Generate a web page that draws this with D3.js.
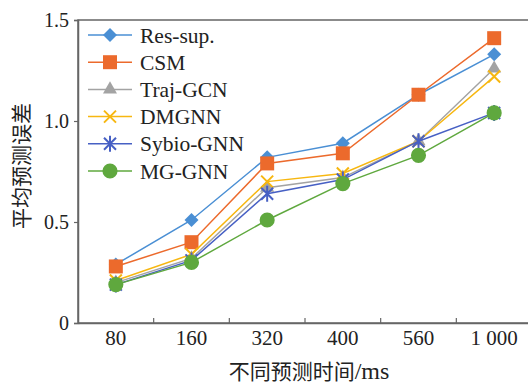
<!DOCTYPE html>
<html>
<head>
<meta charset="utf-8">
<script src="https://cdn.jsdelivr.net/npm/d3@7/dist/d3.min.js"></script>
<style>
  body { margin: 0; background: #fff; }
  svg { display: block; }
</style>
</head>
<body>
<div id="chart"></div>
<script>
// categories and series
const times = ["80", "160", "320", "400", "560", "1 000"];
const resSup  = [0.29, 0.51, 0.82, 0.89, 1.13, 1.33];
const csm     = [0.28, 0.40, 0.79, 0.84, 1.13, 1.41];
const trajGcn = [0.20, 0.32, 0.67, 0.72, 0.90, 1.26];
const dmgnn   = [0.21, 0.34, 0.70, 0.74, 0.90, 1.22];
const sybio   = [0.19, 0.31, 0.64, 0.71, 0.90, 1.04];
const mgGnn   = [0.19, 0.30, 0.51, 0.69, 0.83, 1.04];
const yTicks  = [0, 0.5, 1.0, 1.5];

const series = [
  { name: "Res-sup.",   values: resSup,  color: "#4a8fd4", marker: "diamond" },
  { name: "CSM",        values: csm,     color: "#ec6a2c", marker: "square" },
  { name: "Traj-GCN",   values: trajGcn, color: "#a3a3a3", marker: "triangle" },
  { name: "DMGNN",      values: dmgnn,   color: "#f7b710", marker: "cross" },
  { name: "Sybio-GNN",  values: sybio,   color: "#4760c4", marker: "star" },
  { name: "MG-GNN",     values: mgGnn,   color: "#5fa83e", marker: "circle" }
];

const width = 528, height = 385;
const marginLeft = 78, marginTop = 20, plotBottom = 323, plotRight = 532;

const svg = d3.select("#chart").append("svg")
  .attr("width", width).attr("height", height);

const x = d3.scaleBand().domain(times).range([marginLeft, plotRight]);
const y = d3.scaleLinear().domain([0, 1.5]).range([plotBottom, marginTop]);
const cx = d => x(d) + x.bandwidth() / 2;

const axisColor = "#666";
const serif = "'Liberation Serif', 'DejaVu Serif', serif";
const cjk = "'Noto Sans CJK SC', sans-serif";

// frame
svg.append("rect")
  .attr("x", marginLeft).attr("y", marginTop)
  .attr("width", plotRight - marginLeft).attr("height", plotBottom - marginTop)
  .attr("fill", "none").attr("stroke", axisColor).attr("stroke-width", 1.5);

// y axis
const yAxis = svg.append("g")
  .attr("transform", "translate(" + marginLeft + ",0)")
  .call(d3.axisLeft(y).tickValues(yTicks).tickSize(4).tickPadding(5)
    .tickFormat(d => d === 0 ? "0" : d3.format(".1f")(d)));
yAxis.select(".domain").attr("stroke", axisColor).attr("stroke-width", 1.5);
yAxis.selectAll(".tick line").attr("stroke", axisColor).attr("stroke-width", 1.2);
yAxis.selectAll(".tick text")
  .attr("font-family", serif).attr("font-size", 20).attr("fill", "#222");

// x axis: labels centred in bands, ticks on band boundaries pointing inwards
const xAxis = svg.append("g")
  .attr("transform", "translate(0," + plotBottom + ")")
  .call(d3.axisBottom(x).tickSize(0).tickPadding(7));
xAxis.select(".domain").attr("stroke", axisColor).attr("stroke-width", 1.5);
xAxis.selectAll(".tick text")
  .attr("font-family", serif).attr("font-size", 21).attr("fill", "#222");
xAxis.selectAll(".bound")
  .data(times.slice(1))
  .enter().append("line")
  .attr("x1", d => x(d)).attr("x2", d => x(d))
  .attr("y1", 0).attr("y2", -5)
  .attr("stroke", axisColor).attr("stroke-width", 1.2);

// axis titles
const xTitle = svg.append("text")
  .attr("x", 309).attr("y", 379)
  .attr("text-anchor", "middle")
  .attr("font-family", cjk).attr("font-size", 21).attr("fill", "#222");
xTitle.append("tspan").text("不同预测时间");
xTitle.append("tspan").attr("font-family", serif).attr("font-size", 24).text("/ms");

svg.append("text")
  .attr("transform", "translate(29,166) rotate(-90)")
  .attr("text-anchor", "middle")
  .attr("font-family", cjk).attr("font-size", 21).attr("fill", "#222")
  .text("平均预测误差");

// marker drawing
function drawMarker(g, type, color) {
  if (type === "diamond") {
    g.append("path").attr("d", "M0,-7L7,0L0,7L-7,0Z")
      .attr("fill", color);
  } else if (type === "square") {
    g.append("path").attr("d", d3.symbol(d3.symbolSquare, 196)())
      .attr("fill", color);
  } else if (type === "triangle") {
    g.append("path").attr("d", d3.symbol(d3.symbolTriangle, 85)())
      .attr("fill", color);
  } else if (type === "circle") {
    g.append("path").attr("d", d3.symbol(d3.symbolCircle, 180)())
      .attr("fill", color);
  } else if (type === "cross") {
    g.append("path").attr("d", "M-6,-6L6,6M-6,6L6,-6")
      .attr("stroke", color).attr("stroke-width", 2).attr("fill", "none");
  } else if (type === "star") {
    g.append("path").attr("d", "M-6,-6L6,6M-6,6L6,-6M0,-8L0,8")
      .attr("stroke", color).attr("stroke-width", 2).attr("fill", "none");
  }
}

const line = d3.line()
  .x((d, i) => cx(times[i]))
  .y(d => y(d));

// series lines and markers
series.forEach(s => {
  svg.append("path")
    .datum(s.values)
    .attr("d", line)
    .attr("fill", "none")
    .attr("stroke", s.color)
    .attr("stroke-width", 1.5);

  svg.append("g")
    .selectAll("g")
    .data(s.values)
    .enter().append("g")
    .attr("transform", (d, i) => "translate(" + cx(times[i]) + "," + y(d) + ")")
    .each(function() { drawMarker(d3.select(this), s.marker, s.color); });
});

// legend
const legend = svg.append("g");
series.forEach((s, i) => {
  const ly = 35 + i * 27.2;
  legend.append("line")
    .attr("x1", 88).attr("x2", 132).attr("y1", ly).attr("y2", ly)
    .attr("stroke", s.color).attr("stroke-width", 1.5);
  const g = legend.append("g").attr("transform", "translate(110," + ly + ")");
  drawMarker(g, s.marker, s.color);
  legend.append("text")
    .attr("x", 140).attr("y", ly).attr("dy", "0.35em")
    .attr("font-family", serif).attr("font-size", 21.5).attr("fill", "#222")
    .text(s.name);
});
</script>
</body>
</html>
